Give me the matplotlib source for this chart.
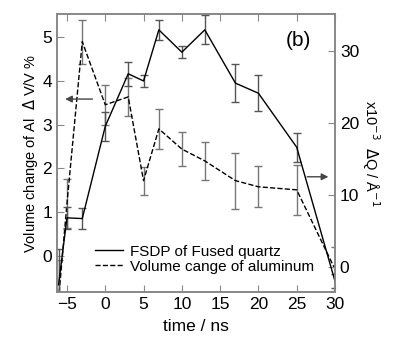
import matplotlib
matplotlib.use("Agg")
import matplotlib.pyplot as plt

plt.rcParams['font.family'] = ['Liberation Sans', 'DejaVu Sans']

# time points (ns)
t = [-6.1, -5, -3, 0, 3, 5, 7, 10, 13, 17, 20, 25, 30]

# FSDP shift of fused quartz (x10^-3 1/A), right axis
fsdp = [-2.5, 6.8, 6.7, 19.5, 26.8, 25.8, 32.9, 29.8, 32.9, 25.5, 24.1, 16.6, -2.0]
fsdp_err = [5.0, 1.5, 1.5, 2.0, 1.7, 0.8, 1.4, 0.8, 2.0, 2.6, 2.5, 2.0, 1.0]

# volume change of aluminum (%), left axis
vol = [-1.0, 1.2, 4.89, 3.45, 3.63, 1.72, 2.9, 2.44, 2.17, 1.72, 1.58, 1.51, -0.3]
vol_err = [0.9, 0.55, 0.5, 0.45, 0.43, 0.32, 0.45, 0.39, 0.44, 0.64, 0.47, 0.57, 0.5]

frame = '#888888'

fig = plt.figure(figsize=(4, 3.38), dpi=100)
ax = fig.add_axes([0.1425, 0.136, 0.695, 0.8226])
ax2 = ax.twinx()

ax.errorbar(t, vol, yerr=vol_err, color='black', ecolor='#777777', elinewidth=1.0,
            capsize=3, capthick=1.0, linestyle='--', linewidth=1.0,
            label='Volume cange of aluminum')
ax2.errorbar(t, fsdp, yerr=fsdp_err, color='black', ecolor='#555555', elinewidth=1.0,
             capsize=3, capthick=1.0, linestyle='-', linewidth=1.0,
             label='FSDP of Fused quartz')

ax.set_xlim(-6.3, 30)
ax.set_ylim(-0.82, 5.52)
ax2.set_ylim(-3.5, 35.1)
ax.set_xticks([-5, 0, 5, 10, 15, 20, 25, 30])
ax.set_yticks([0, 1, 2, 3, 4, 5])
ax2.set_yticks([0, 10, 20, 30])

for a in (ax, ax2):
    for s in a.spines.values():
        s.set_color(frame)
        s.set_linewidth(1.2)
ax.tick_params(direction='in', length=5, color=frame, labelsize=12.5, top=True, right=False)
ax2.tick_params(direction='in', length=5, color=frame, labelsize=12.5)

ax.set_xlabel('time / ns', fontsize=12.5, labelpad=5)
ax.set_ylabel('Volume change of Al  $\\Delta$ V/V %', fontsize=10.5, labelpad=2)
ax2.set_ylabel('x10$^{-3}$  $\\Delta$Q / Å$^{-1}$', fontsize=10.5, rotation=270, labelpad=16)

ax.text(0.867, 0.906, '(b)', transform=ax.transAxes, fontsize=15, ha='center', va='center')

# arrows pointing to the axes
ax.annotate('', xy=(-5.6, 3.58), xytext=(-1.3, 3.58),
            arrowprops=dict(arrowstyle='-|>', color='#444444', lw=1.0))
ax2.annotate('', xy=(29.5, 12.5), xytext=(26.0, 12.5),
             arrowprops=dict(arrowstyle='-|>', color='#444444', lw=1.0))

h1, l1 = ax2.get_legend_handles_labels()
h2, l2 = ax.get_legend_handles_labels()
handles = [h1[0][0], h2[0][0]]
ax.legend(handles, [l1[0], l2[0]], loc='upper left', bbox_to_anchor=(0.137, 0.17),
          borderaxespad=0, borderpad=0, frameon=False, fontsize=11,
          handlelength=1.8, handletextpad=0.5, labelspacing=0.05)

fig.savefig('out.png', dpi=100)
